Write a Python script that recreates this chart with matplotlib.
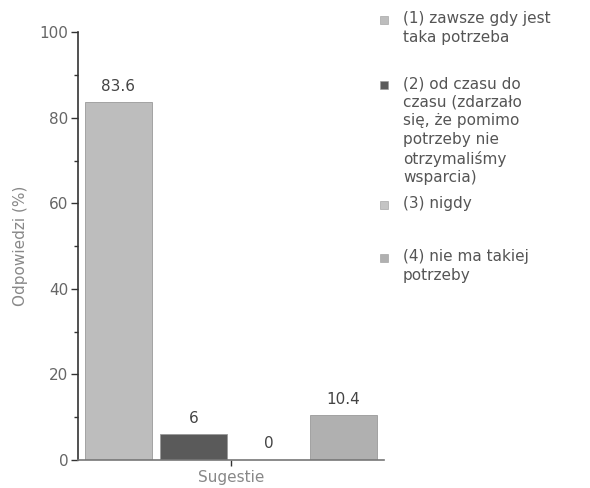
import matplotlib
matplotlib.use("Agg")
import matplotlib.pyplot as plt
from matplotlib.patches import Rectangle

# data
categories = ["(1)", "(2)", "(3)", "(4)"]
values = [83.6, 6, 0, 10.4]
value_labels = ["83.6", "6", "0", "10.4"]
legend_labels = [
    "(1) zawsze gdy jest\ntaka potrzeba",
    "(2) od czasu do\nczasu (zdarzało\nsię, że pomimo\npotrzeby nie\notrzymaliśmy\nwsparcia)",
    "(3) nigdy",
    "(4) nie ma takiej\npotrzeby",
]
colors = ["#bdbdbd", "#5a5a5a", "#c4c4c4", "#b0b0b0"]
yticks = [0, 20, 40, 60, 80, 100]

fig = plt.figure(figsize=(5.9, 4.88), dpi=100)
ax = fig.add_axes([0.132, 0.0574, 0.519, 0.8766])

x = list(range(len(values)))
bars = ax.bar(x, values, width=0.9, color=colors, edgecolor="#9a9a9a", linewidth=0.6)
for b, lab in zip(bars, value_labels):
    ax.text(b.get_x() + b.get_width() / 2, b.get_height() + 2.0, lab,
            ha="center", va="bottom", fontsize=11, color="#444444")

ax.set_xlim(-0.54, 3.54)
ax.set_ylim(0, 100)
ax.set_yticks(yticks)
ax.set_yticks(range(10, 100, 20), minor=True)
ax.set_xticks([1.5])
ax.set_xticklabels([""])
ax.tick_params(axis="y", which="major", length=5, width=1, colors="#333333",
               labelsize=11, labelcolor="#666666", pad=2)
ax.tick_params(axis="y", which="minor", length=3, width=1, colors="#333333")
ax.tick_params(axis="x", length=4, width=1, colors="#333333")

for s in ["top", "right"]:
    ax.spines[s].set_visible(False)
ax.spines["left"].set_color("#333333")
ax.spines["left"].set_linewidth(1.2)
ax.spines["bottom"].set_color("#777777")
ax.spines["bottom"].set_linewidth(1.2)

ax.set_ylabel("Odpowiedzi (%)", fontsize=11, color="#888888", labelpad=8)
ax.set_xlabel("Sugestie", fontsize=11, color="#888888")
ax.xaxis.set_label_coords(0.5, -0.024)

# legend drawn by hand to keep the uneven spacing of the original
legend_y = [20, 85, 205, 258]
H = 488.0
W = 590.0
for lab, c, yy in zip(legend_labels, colors, legend_y):
    fig.patches.append(Rectangle((380 / W, 1 - (yy + 4) / H), 8 / W, 8 / H,
                                 transform=fig.transFigure, facecolor=c,
                                 edgecolor="#999999", linewidth=0.4))
    fig.text(403 / W, 1 - (yy - 9) / H, lab, ha="left", va="top",
             fontsize=11, color="#555555", linespacing=1.3)

fig.savefig("out.png", dpi=100)
